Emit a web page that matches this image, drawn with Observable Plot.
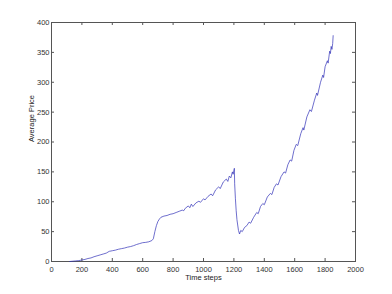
<!DOCTYPE html>
<html>
<head>
<meta charset="utf-8">
<script src="https://cdn.jsdelivr.net/npm/d3@7"></script>
<script src="https://cdn.jsdelivr.net/npm/@observablehq/plot@0.6"></script>
<style>
  html, body { margin: 0; padding: 0; background: #fff; }
  #chart { width: 392px; height: 294px; }
</style>
</head>
<body>
<div id="chart"></div>
<script>
const steps = [120,140,160,180,200,220,240,260,280,300,320,340,360,380,400,420,440,460,480,500,520,540,560,580,600,620,640,660,670,680,690,700,710,720,740,760,780,800,820,840,860,870,880,900,910,920,930,950,970,980,1000,1010,1030,1050,1060,1080,1100,1110,1130,1150,1160,1170,1180,1190,1195,1203,1205,1210,1215,1220,1230,1237,1245,1255,1270,1285,1300,1310,1330,1350,1360,1375,1390,1400,1420,1440,1450,1465,1480,1490,1510,1530,1540,1555,1570,1580,1595,1610,1620,1640,1655,1660,1680,1700,1710,1730,1745,1750,1770,1785,1790,1800,1815,1820,1830,1835,1840,1845,1850,1853];
const prices = [0,0.5,1,1.5,2.5,3.5,5,6,8,9.5,11,12.5,14,17,18,19,20.5,21.5,22.5,24,25,26.5,28.5,30,31.5,32,33,35,38,50,60,67,71,74,76,77,79,80,82,84,86,85,89,93,90,96,92,98,101,99,105,103,109,113,110,120,125,122,133,138,134,143,140,150,146,156,130,105,85,70,52,46,52,50,57,60,66,64,74,82,80,92,97,95,108,114,112,124,130,128,142,150,148,162,170,168,186,196,194,214,224,220,242,254,251,270,282,278,300,312,308,326,336,332,352,348,360,355,365,378];
const xTicks = [0,200,400,600,800,1000,1200,1400,1600,1800,2000];
const yTicks = [0,50,100,150,200,250,300,350,400];

const data = steps.map((t, i) => ({t, p: prices[i]}));
const axisColor = "#555";

const chart = Plot.plot({
  width: 392,
  height: 294,
  marginLeft: 51,
  marginRight: 37,
  marginTop: 22,
  marginBottom: 33,
  style: {fontFamily: "Liberation Sans, Arial, sans-serif", fontSize: "7.5px", background: "#fff"},
  x: {domain: [0, 2000]},
  y: {domain: [0, 400]},
  marks: [
    Plot.frame({stroke: axisColor}),
    Plot.tickX(xTicks, {x: d => d, insetTop: 236, stroke: axisColor}),
    Plot.tickX(xTicks, {x: d => d, insetBottom: 236, stroke: axisColor}),
    Plot.tickY(yTicks, {y: d => d, insetRight: 301, stroke: axisColor}),
    Plot.tickY(yTicks, {y: d => d, insetLeft: 301, stroke: axisColor}),
    Plot.axisX(xTicks, {tickSize: 0, tickPadding: 5, label: null, fill: "#333", tickFormat: d => String(d)}),
    Plot.axisY(yTicks, {tickSize: 0, tickPadding: 2, label: null, fill: "#333", tickFormat: d => String(d)}),
    Plot.text(["Time steps"], {frameAnchor: "bottom", dy: 18, fill: "#222", fontSize: 7.5}),
    Plot.text(["Average Price"], {frameAnchor: "left", dx: -20, rotate: -90, fill: "#222", fontSize: 7.5}),
    Plot.line(data, {x: "t", y: "p", stroke: "#3030b8", strokeWidth: 0.7})
  ]
});
document.getElementById("chart").appendChild(chart);
</script>
</body>
</html>
